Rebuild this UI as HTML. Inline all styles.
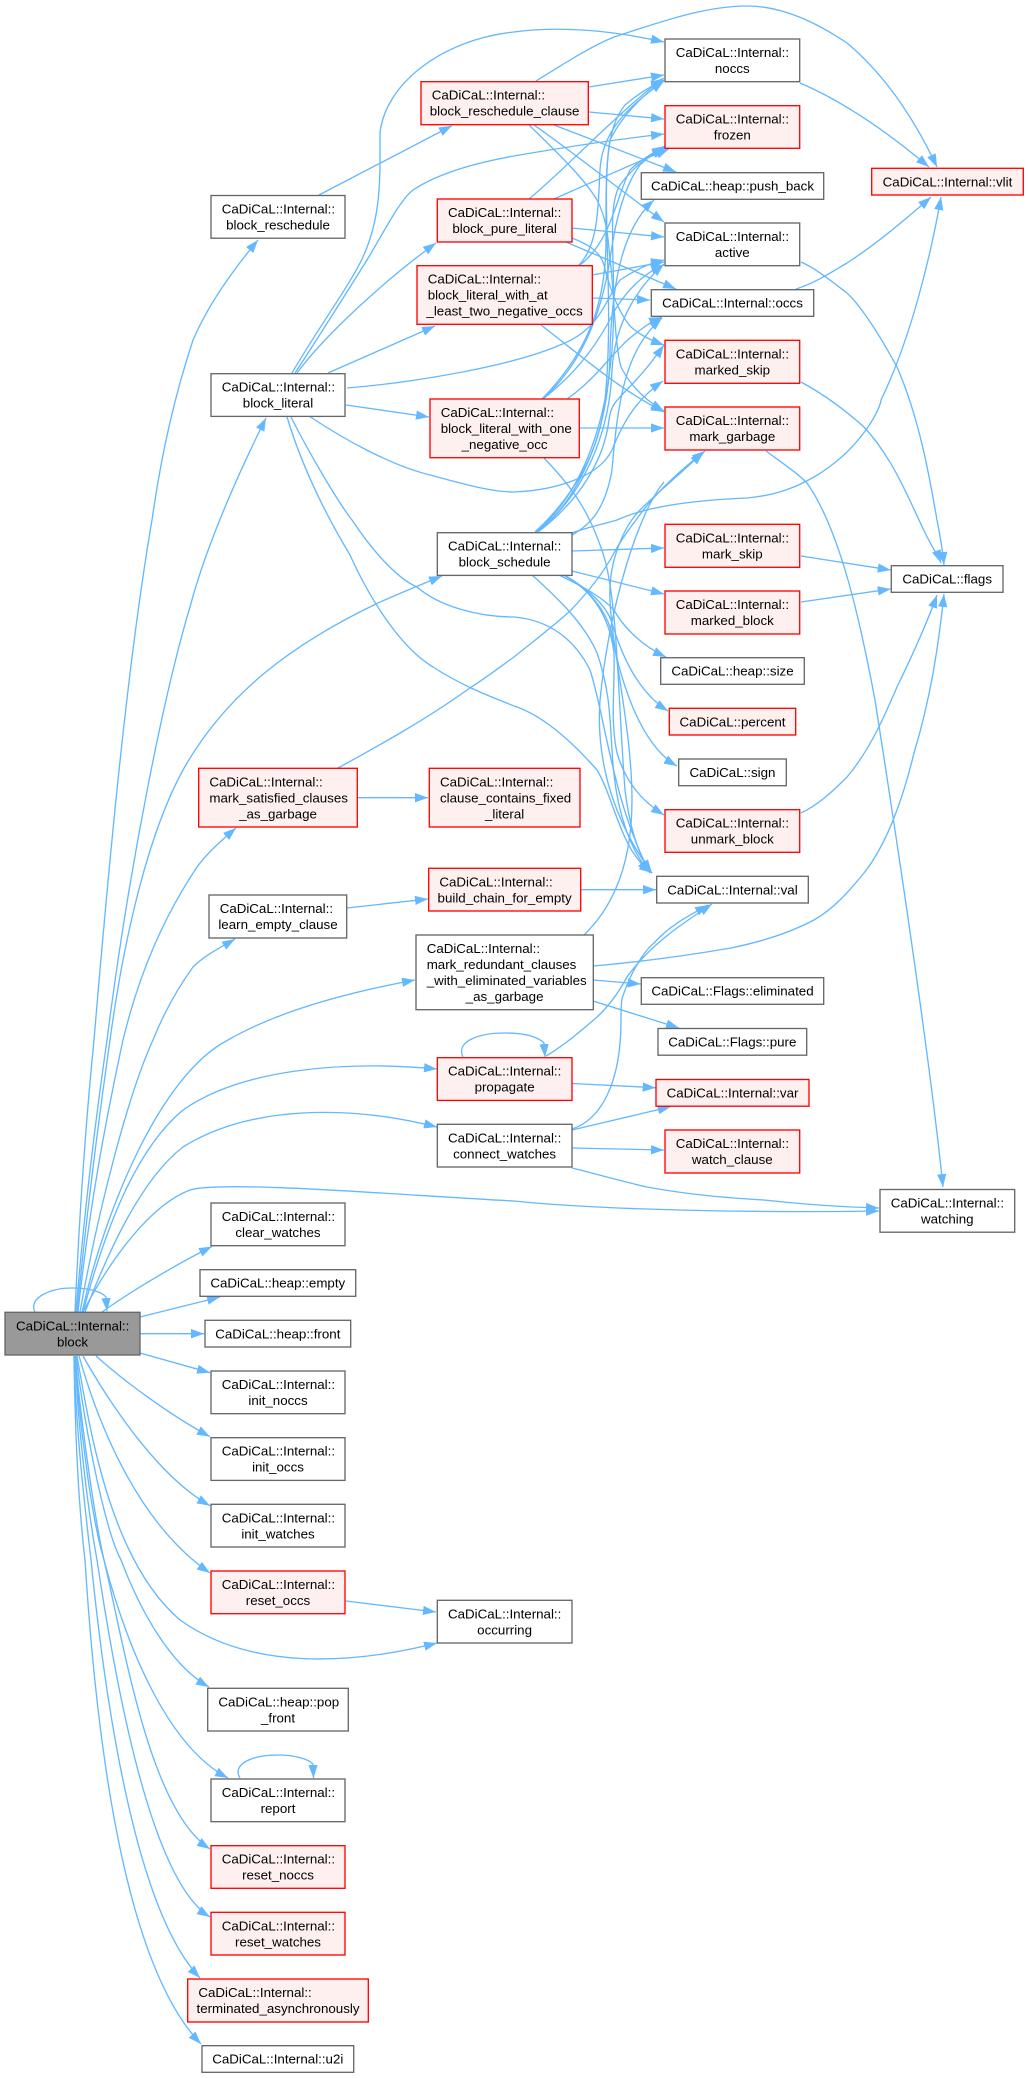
<!DOCTYPE html>
<html><head><meta charset="utf-8"><title>CaDiCaL::Internal::block call graph</title>
<style>
html,body{margin:0;padding:0;background:#fff}
svg{display:block}
text{font-family:"Liberation Sans",Arial,sans-serif;font-size:13.33px;fill:#000}
.m{text-anchor:middle}
.n{fill:#fff;stroke:#666;stroke-width:1.33}
.r{fill:#fff0f0;stroke:#f00;stroke-width:1.33}
.e path{fill:none;stroke:#63b8ff;stroke-width:1.33;marker-end:url(#a)}
</style></head><body>
<svg width="1028" height="2078" viewBox="0 0 1028 2078" xmlns="http://www.w3.org/2000/svg">
<defs><marker id="a" markerUnits="userSpaceOnUse" markerWidth="14" markerHeight="10" refX="13" refY="4.65" orient="auto"><path d="M0,0L13,4.65L0,9.3z" style="fill:#63b8ff;stroke:none;marker-end:none"/></marker></defs>
<rect width="1028" height="2078" fill="#fff"/>
<g class="e">
<path d="M75,1312C80,1200 87,1110 94,1040C110,850 128,660 152,520C162,450 175,395 193,340C208,305 233,270 258,240"/>
<path d="M76,1312C85,1200 97,1110 107,1040C130,860 165,690 190,607C205,550 235,480 266,418"/>
<path d="M77,1312C88,1200 100,1110 110,1040C125,930 150,830 183,770C225,695 290,645 378,603C400,593 420,585 442,576"/>
<path d="M78,1312C90,1200 108,1110 123,1040C140,970 165,915 197,867C208,852 222,840 236,828"/>
<path d="M80,1312C100,1200 130,1090 153,1040C165,1010 180,985 193,967C205,955 220,948 235,939"/>
<path d="M82,1312C105,1210 160,1075 228,1040C280,1010 350,992 415,980"/>
<path d="M83,1312C105,1230 135,1150 183,1110C240,1070 340,1060 437,1069"/>
<path d="M85,1312C107,1255 140,1180 183,1147C250,1105 350,1105 437,1127"/>
<path d="M83,1312C110,1260 150,1205 190,1190C220,1180 400,1195 514,1201C600,1210 760,1213 879,1211"/>
<path d="M102,1312C130,1292 175,1265 212,1246.5"/>
<path d="M140,1317L220,1297"/>
<path d="M140,1333.7L204,1333.7"/>
<path d="M140,1353L210,1372.7"/>
<path d="M96,1356C125,1382 170,1415 210,1436.7"/>
<path d="M83,1356C105,1395 155,1475 210,1505.7"/>
<path d="M79,1356C100,1430 140,1525 210,1573"/>
<path d="M77,1356C90,1430 110,1560 180,1620C250,1670 350,1665 437,1643"/>
<path d="M76,1356C85,1430 105,1530 121,1560C140,1610 170,1665 209,1687"/>
<path d="M75,1356C82,1430 95,1520 104,1560C125,1640 165,1745 228,1778"/>
<path d="M75,1356C80,1430 92,1520 104,1560C125,1650 150,1810 210,1849"/>
<path d="M75,1356C78,1430 88,1510 97,1560C115,1680 150,1880 210,1917"/>
<path d="M74,1356C76,1430 84,1500 91,1560C105,1700 135,1910 200,1978"/>
<path d="M74,1356C75,1430 78,1500 85,1560C95,1720 120,1960 201,2044"/>
<path d="M35,1312C28,1298 50,1288 72,1288C90,1288 102,1292 106,1297L107,1311"/>
<path d="M240,1778C232,1765 250,1755 278,1755C295,1755 308,1759 313,1764L313.5,1778"/>
<path d="M463,1057C456,1043 475,1033 505,1033C525,1033 538,1037 544,1043L545,1057"/>
<path d="M319,195L452,125.7"/>
<path d="M292,373C320,325 350,285 363,257C382,215 380,175 380,133C385,85 440,40 514,32C560,26 610,30 664,42"/>
<path d="M295,373C320,335 345,295 367,260C385,230 400,200 413,190C440,172 480,162 514,156C560,148 620,139 664,134"/>
<path d="M297,373C325,335 385,280 436,243"/>
<path d="M328,373L435,326"/>
<path d="M346,405L429,417"/>
<path d="M347,388C420,382 514,365 560,345C600,330 605,300 620,280C635,270 650,263 664,260"/>
<path d="M309,416C345,440 390,465 430,475C460,483 490,492 514,492C560,490 600,475 612,450C622,425 635,400 663,381"/>
<path d="M287,417C300,460 320,505 350,555C375,610 405,650 433,667C465,688 500,700 514,706C545,716 575,745 597,770C615,800 620,850 652,873"/>
<path d="M291,417C310,455 340,505 352,520C375,555 400,580 417,587C440,607 480,617 514,617C550,620 575,640 590,670C605,715 612,800 650,873"/>
<path d="M536,81C570,60 590,47 614,37C660,22 705,6 747,6C785,6 820,25 847,43C885,75 915,120 937,167"/>
<path d="M589,87L664,75"/>
<path d="M589,112L664,119"/>
<path d="M554,125L676,172"/>
<path d="M534,125C570,150 620,190 664,222"/>
<path d="M529,125C565,160 585,180 597,200C610,225 608,250 611,267C615,310 615,345 621,367C630,385 645,400 664,411"/>
<path d="M529,199C570,165 620,110 664,78"/>
<path d="M554,199C590,183 630,165 669,149"/>
<path d="M572,228L664,237"/>
<path d="M566,242L676,289"/>
<path d="M572,238C590,245 600,252 604,265C610,290 620,315 631,327C640,335 650,340 664,345"/>
<path d="M579,266C612,240 615,200 630,170C640,160 655,152 665,146"/>
<path d="M578,266C600,245 598,200 600,170C602,130 630,105 664,81"/>
<path d="M592,275L664,262"/>
<path d="M592,298L650,300"/>
<path d="M541,325C580,355 620,390 664,412"/>
<path d="M542,399C590,350 606,300 606,240C606,170 605,130 625,105C640,92 655,84 664,81"/>
<path d="M543,399C580,365 600,320 610,260C615,220 625,185 640,165C650,155 660,150 665,147"/>
<path d="M543,399C580,370 600,340 615,310C630,285 650,270 664,265"/>
<path d="M567,399C595,380 615,350 630,338C640,330 650,322 662,317"/>
<path d="M580,428L664,428"/>
<path d="M544,458C570,485 590,510 605,560C618,610 618,700 625,790C630,830 640,860 652,873"/>
<path d="M535,532C575,495 600,450 605,400C615,300 600,200 610,140C625,110 650,90 664,80"/>
<path d="M536,532C580,495 605,430 612,350C618,270 605,210 620,185C635,165 650,155 665,148"/>
<path d="M537,532C585,495 610,420 610,350C612,290 620,230 654,200"/>
<path d="M537,532C585,495 610,430 612,370C615,320 640,285 664,264"/>
<path d="M572,535C590,525 605,510 612,470C618,400 625,350 662,318"/>
<path d="M538,532C580,500 604,460 609,420C612,395 625,400 664,345"/>
<path d="M572,533C585,528 600,525 617,520C650,505 700,500 747,498C780,495 800,485 814,477C860,450 880,410 881,400C910,340 930,260 941,197"/>
<path d="M572,551L664,548"/>
<path d="M572,571L664,594"/>
<path d="M559,575C590,590 605,600 614,610C622,625 640,645 666,657"/>
<path d="M564,575C590,590 605,605 611,620C620,650 635,690 668,711"/>
<path d="M564,575C590,590 605,610 611,630C620,680 640,745 677,766"/>
<path d="M564,575C595,592 610,620 614,653C615,690 610,720 617,753C625,780 640,800 664,815"/>
<path d="M532,575C560,600 585,625 597,653C610,690 610,720 612,750C615,810 630,850 650,873"/>
<path d="M664,482C640,510 610,600 600,700C595,770 620,830 652,873"/>
<path d="M338,768C380,745 425,720 467,690C490,675 500,667 514,657C535,640 555,625 571,610C590,590 605,570 614,553C622,538 630,528 636,520C650,500 670,478 705,451"/>
<path d="M584,935C615,905 632,860 632,800C632,730 612,650 610,600C608,560 625,525 640,510C660,490 685,470 703,452"/>
<path d="M593,966C640,962 690,955 731,948C770,940 795,930 814,920C835,908 850,890 864,873C890,840 905,790 914,753C930,700 938,650 944,594"/>
<path d="M593,980L640.7,984"/>
<path d="M593,1001L679,1028"/>
<path d="M546,1056C560,1048 580,1032 597,1017C610,1005 620,990 627,977C650,945 680,925 712,904"/>
<path d="M572,1129C600,1120 621,1085 621,1020C621,1000 622,997 624,993C632,970 645,950 654,943C670,925 690,915 708,905"/>
<path d="M572,1083.5L655.7,1087.7"/>
<path d="M572,1130L670.7,1106.7"/>
<path d="M572,1148L664,1150"/>
<path d="M572,1168C600,1175 625,1182 647,1187C690,1195 730,1198 764,1200C800,1204 840,1207 879,1208"/>
<path d="M800,83C840,100 885,130 929,167"/>
<path d="M796,289C815,283 832,272 847,263C875,245 905,220 931,197"/>
<path d="M801,262C815,268 830,280 847,293C865,310 885,345 897,367C920,420 930,480 937,520C942,545 943,555 944,565"/>
<path d="M801,382C825,395 845,410 864,427C890,455 905,490 919,520C930,545 938,555 941,563"/>
<path d="M801,556L890.7,570"/>
<path d="M801,602L890.7,589"/>
<path d="M801,813C818,805 832,792 847,777C870,750 885,715 897,687C915,650 928,620 937,595"/>
<path d="M766,451C785,465 797,473 807,483C840,530 860,620 875,700C900,860 930,1060 943,1187"/>
<path d="M358,797.7L428,797.7"/>
<path d="M347,908L428,899"/>
<path d="M581,889.7L656,889.7"/>
<path d="M346,1601L436,1612"/>
</g>
<rect class="n" x="5" y="1312.3" width="135" height="42.7" style="fill:#999"/><text x="16" y="1330.3">CaDiCaL::Internal::</text><text class="m" x="72.5" y="1346.3">block</text>
<rect class="n" x="211" y="195.5" width="134" height="42.7"/><text x="221.7" y="213.5">CaDiCaL::Internal::</text><text class="m" x="278" y="229.5">block_reschedule</text>
<rect class="n" x="211" y="373.7" width="134" height="42.7"/><text x="221.7" y="391.7">CaDiCaL::Internal::</text><text class="m" x="278" y="407.7">block_literal</text>
<rect class="r" x="421" y="81.7" width="167.3" height="43"/><text x="431.7" y="99.7">CaDiCaL::Internal::</text><text class="m" x="504.6" y="115.7">block_reschedule_clause</text>
<rect class="r" x="437.3" y="199" width="134.7" height="43"/><text x="448" y="217">CaDiCaL::Internal::</text><text class="m" x="504.6" y="233">block_pure_literal</text>
<rect class="r" x="417" y="265.7" width="175.3" height="58.6"/><text x="427.7" y="283.7">CaDiCaL::Internal::</text><text x="427.7" y="299.7">block_literal_with_at</text><text class="m" x="504.6" y="315.7">_least_two_negative_occs</text>
<rect class="r" x="430" y="399" width="149.3" height="58.7"/><text x="440.7" y="417">CaDiCaL::Internal::</text><text x="440.7" y="433">block_literal_with_one</text><text class="m" x="504.6" y="449">_negative_occ</text>
<rect class="n" x="437.3" y="532.7" width="134.7" height="42.7"/><text x="448" y="550.7">CaDiCaL::Internal::</text><text class="m" x="504.6" y="566.7">block_schedule</text>
<rect class="r" x="198.7" y="768.3" width="158.6" height="58.7"/><text x="209.4" y="786.3">CaDiCaL::Internal::</text><text x="209.4" y="802.3">mark_satisfied_clauses</text><text class="m" x="278" y="818.3">_as_garbage</text>
<rect class="r" x="429.3" y="768.3" width="150.7" height="58.7"/><text x="440" y="786.3">CaDiCaL::Internal::</text><text x="440" y="802.3">clause_contains_fixed</text><text class="m" x="504.6" y="818.3">_literal</text>
<rect class="n" x="209" y="895" width="137.7" height="43"/><text x="219.7" y="913">CaDiCaL::Internal::</text><text class="m" x="278" y="929">learn_empty_clause</text>
<rect class="r" x="428.7" y="868.3" width="152" height="42.7"/><text x="439.4" y="886.3">CaDiCaL::Internal::</text><text class="m" x="504.6" y="902.3">build_chain_for_empty</text>
<rect class="n" x="416" y="935" width="177.3" height="74.7"/><text x="426.7" y="953">CaDiCaL::Internal::</text><text x="426.7" y="969">mark_redundant_clauses</text><text x="426.7" y="985">_with_eliminated_variables</text><text class="m" x="504.6" y="1001">_as_garbage</text>
<rect class="r" x="437.3" y="1057.7" width="134.7" height="42.7"/><text x="448" y="1075.7">CaDiCaL::Internal::</text><text class="m" x="504.6" y="1091.7">propagate</text>
<rect class="n" x="437.3" y="1124.3" width="134.7" height="42.7"/><text x="448" y="1142.3">CaDiCaL::Internal::</text><text class="m" x="504.6" y="1158.3">connect_watches</text>
<rect class="n" x="211" y="1203" width="134" height="42.7"/><text x="221.7" y="1221">CaDiCaL::Internal::</text><text class="m" x="278" y="1237">clear_watches</text>
<rect class="n" x="200" y="1269.7" width="155.7" height="26.6"/><text class="m" x="277.8" y="1287.7">CaDiCaL::heap::empty</text>
<rect class="n" x="205" y="1320.3" width="145.7" height="26.7"/><text class="m" x="277.8" y="1338.3">CaDiCaL::heap::front</text>
<rect class="n" x="211" y="1371" width="134" height="42.7"/><text x="221.7" y="1389">CaDiCaL::Internal::</text><text class="m" x="278" y="1405">init_noccs</text>
<rect class="n" x="211" y="1437.7" width="134" height="42.7"/><text x="221.7" y="1455.7">CaDiCaL::Internal::</text><text class="m" x="278" y="1471.7">init_occs</text>
<rect class="n" x="211" y="1504.3" width="134" height="42.7"/><text x="221.7" y="1522.3">CaDiCaL::Internal::</text><text class="m" x="278" y="1538.3">init_watches</text>
<rect class="r" x="211" y="1571" width="134" height="42.7"/><text x="221.7" y="1589">CaDiCaL::Internal::</text><text class="m" x="278" y="1605">reset_occs</text>
<rect class="n" x="437.3" y="1600.3" width="134.7" height="42.7"/><text x="448" y="1618.3">CaDiCaL::Internal::</text><text class="m" x="504.6" y="1634.3">occurring</text>
<rect class="n" x="207.7" y="1688.3" width="140.6" height="42.7"/><text x="218.4" y="1706.3">CaDiCaL::heap::pop</text><text class="m" x="278" y="1722.3">_front</text>
<rect class="n" x="211" y="1779" width="134" height="42.7"/><text x="221.7" y="1797">CaDiCaL::Internal::</text><text class="m" x="278" y="1813">report</text>
<rect class="r" x="211" y="1845.7" width="134" height="42.6"/><text x="221.7" y="1863.7">CaDiCaL::Internal::</text><text class="m" x="278" y="1879.7">reset_noccs</text>
<rect class="r" x="211" y="1912.3" width="134" height="42.7"/><text x="221.7" y="1930.3">CaDiCaL::Internal::</text><text class="m" x="278" y="1946.3">reset_watches</text>
<rect class="r" x="187.7" y="1979" width="180.6" height="43"/><text x="198.4" y="1997">CaDiCaL::Internal::</text><text class="m" x="278" y="2013">terminated_asynchronously</text>
<rect class="n" x="202" y="2045.7" width="151.7" height="26.6"/><text class="m" x="277.8" y="2063.7">CaDiCaL::Internal::u2i</text>
<rect class="n" x="665" y="39" width="134.7" height="42.7"/><text x="675.7" y="57">CaDiCaL::Internal::</text><text class="m" x="732.3" y="73">noccs</text>
<rect class="r" x="665" y="105.7" width="134.7" height="42.6"/><text x="675.7" y="123.7">CaDiCaL::Internal::</text><text class="m" x="732.3" y="139.7">frozen</text>
<rect class="n" x="641.3" y="172.7" width="182.4" height="26.6"/><text class="m" x="732.5" y="190.7">CaDiCaL::heap::push_back</text>
<rect class="n" x="665" y="223" width="134.7" height="42.7"/><text x="675.7" y="241">CaDiCaL::Internal::</text><text class="m" x="732.3" y="257">active</text>
<rect class="n" x="651.3" y="289.7" width="162.4" height="26.6"/><text class="m" x="732.5" y="307.7">CaDiCaL::Internal::occs</text>
<rect class="r" x="665" y="340.3" width="134.7" height="43"/><text x="675.7" y="358.3">CaDiCaL::Internal::</text><text class="m" x="732.3" y="374.3">marked_skip</text>
<rect class="r" x="665" y="407" width="134.7" height="43"/><text x="675.7" y="425">CaDiCaL::Internal::</text><text class="m" x="732.3" y="441">mark_garbage</text>
<rect class="r" x="665" y="524.3" width="134.7" height="43"/><text x="675.7" y="542.3">CaDiCaL::Internal::</text><text class="m" x="732.3" y="558.3">mark_skip</text>
<rect class="r" x="665" y="591" width="134.7" height="43"/><text x="675.7" y="609">CaDiCaL::Internal::</text><text class="m" x="732.3" y="625">marked_block</text>
<rect class="n" x="660.7" y="657.7" width="143.6" height="26.6"/><text class="m" x="732.5" y="675.7">CaDiCaL::heap::size</text>
<rect class="r" x="669.3" y="708.3" width="126.4" height="26.7"/><text class="m" x="732.5" y="726.3">CaDiCaL::percent</text>
<rect class="n" x="678.7" y="759" width="107.6" height="26.7"/><text class="m" x="732.5" y="777">CaDiCaL::sign</text>
<rect class="r" x="665" y="809.7" width="134.7" height="42.6"/><text x="675.7" y="827.7">CaDiCaL::Internal::</text><text class="m" x="732.3" y="843.7">unmark_block</text>
<rect class="n" x="656.7" y="876.3" width="151.6" height="26.7"/><text class="m" x="732.5" y="894.3">CaDiCaL::Internal::val</text>
<rect class="n" x="641.3" y="977.7" width="182.4" height="26.6"/><text class="m" x="732.5" y="995.7">CaDiCaL::Flags::eliminated</text>
<rect class="n" x="658" y="1028.5" width="148.7" height="26.7"/><text class="m" x="732.3" y="1046.5">CaDiCaL::Flags::pure</text>
<rect class="r" x="656" y="1079.5" width="153" height="26.7"/><text class="m" x="732.5" y="1097.5">CaDiCaL::Internal::var</text>
<rect class="r" x="665" y="1130" width="134.7" height="43"/><text x="675.7" y="1148">CaDiCaL::Internal::</text><text class="m" x="732.3" y="1164">watch_clause</text>
<rect class="r" x="871.7" y="168.3" width="151.6" height="26.7"/><text class="m" x="947.5" y="186.3">CaDiCaL::Internal::vlit</text>
<rect class="n" x="891.3" y="565.7" width="111.7" height="26.6"/><text class="m" x="947.2" y="583.7">CaDiCaL::flags</text>
<rect class="n" x="880" y="1189.5" width="134.7" height="42.7"/><text x="890.7" y="1207.5">CaDiCaL::Internal::</text><text class="m" x="947.3" y="1223.5">watching</text>
</svg>
</body></html>
